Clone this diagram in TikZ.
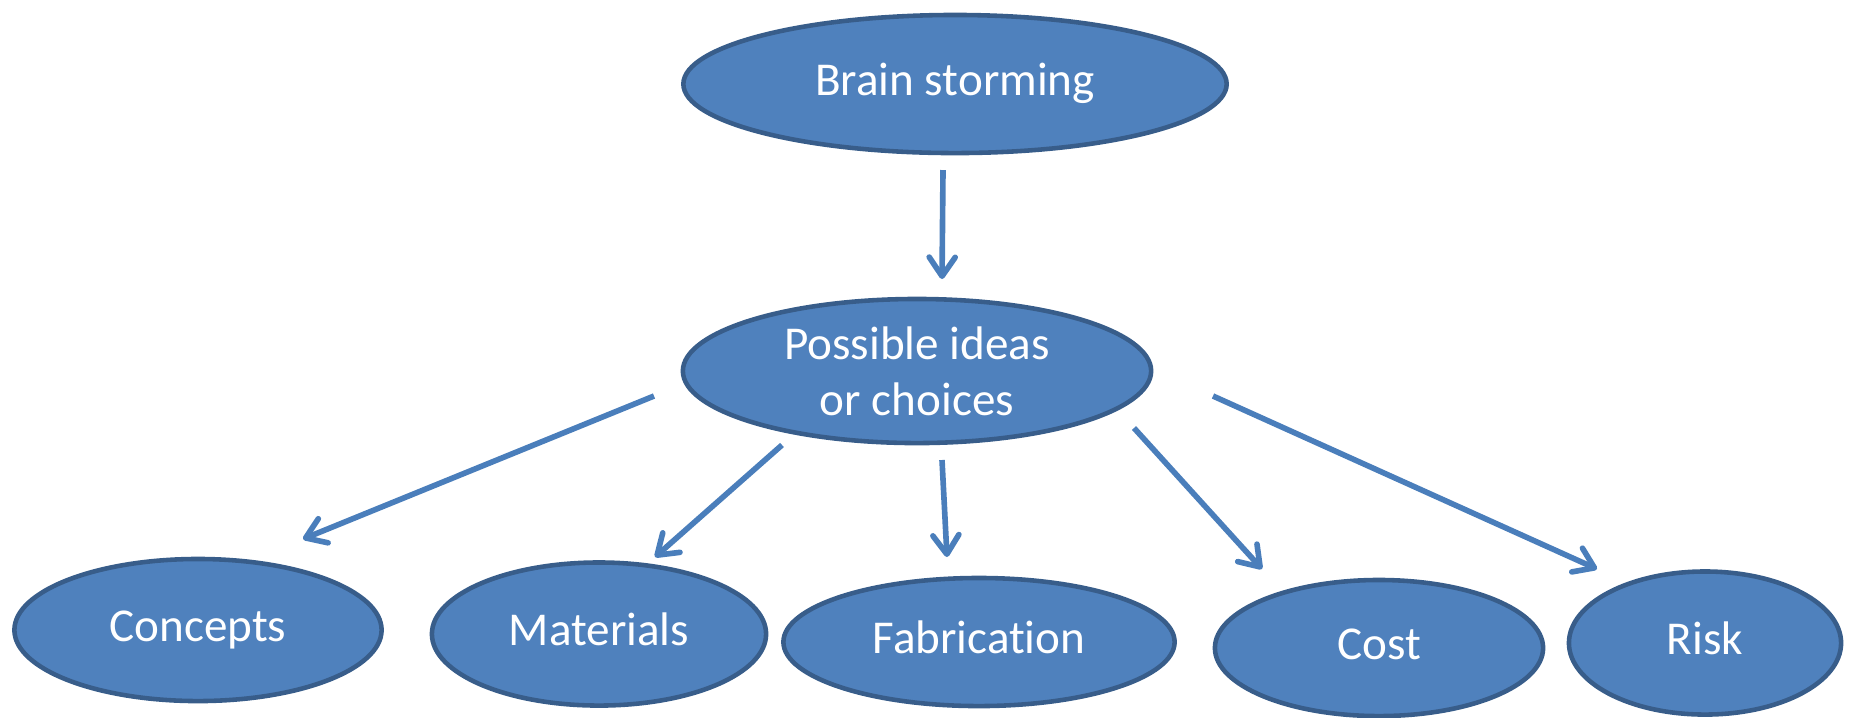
\documentclass[tikz,border=0pt]{standalone}
\usepackage{fontspec}
\setmainfont{Carlito}[Ligatures=NoCommon]
\usetikzlibrary{shapes.geometric,arrows.meta}
\definecolor{ovalfill}{HTML}{4F81BD}
\definecolor{ovalline}{HTML}{385D8A}
\definecolor{arrowblue}{HTML}{4A7EBB}
\tikzset{
  oval/.style={ellipse,draw=ovalline,line width=1.3pt,fill=ovalfill,text=white,inner sep=0pt,align=center,font=\fontsize{13.4}{16}\selectfont},
  word/.style={text height=0.64em,text depth=0pt},
  flow/.style={draw=arrowblue,line width=1.6pt,-{Straight Barb[length=1.9mm,width=2.6mm,round]}}
}
\begin{document}
\begin{tikzpicture}[x=0.01cm,y=-0.01cm]
\useasboundingbox (0,0) rectangle (1858,717);
% ovals
\node[oval,word,minimum width=5.43cm,minimum height=1.38cm] (brain) at (955,84) {Brain storming};
\node[oval,minimum width=4.68cm,minimum height=1.44cm] (ideas) at (917,371) {Possible ideas\\or choices};
\node[oval,word,minimum width=3.67cm,minimum height=1.42cm] (concepts) at (198,630) {Concepts};
\node[oval,word,minimum width=3.34cm,minimum height=1.43cm] (materials) at (599,634) {Materials};
\node[oval,word,minimum width=3.91cm,minimum height=1.28cm] (fabrication) at (979,642) {Fabrication};
\node[oval,word,minimum width=3.28cm,minimum height=1.36cm] (cost) at (1379,648) {Cost};
\node[oval,word,minimum width=2.72cm,minimum height=1.43cm] (risk) at (1705,643) {Risk};
% arrow ends
\coordinate (brain out) at (943,170);
\coordinate (ideas in) at (942,279);
\coordinate (concepts out) at (654,396);
\coordinate (concepts in) at (303,539);
\coordinate (materials out) at (782,445);
\coordinate (materials in) at (655,557);
\coordinate (fabrication out) at (942,460);
\coordinate (fabrication in) at (947,557);
\coordinate (cost out) at (1134,428);
\coordinate (cost in) at (1262,569);
\coordinate (risk out) at (1213,396);
\coordinate (risk in) at (1597,569);
% arrows
\draw[flow] (brain out) -- (ideas in);
\foreach \n in {concepts,materials,fabrication,cost,risk}
  \draw[flow] (\n\space out) -- (\n\space in);
\end{tikzpicture}
\end{document}
